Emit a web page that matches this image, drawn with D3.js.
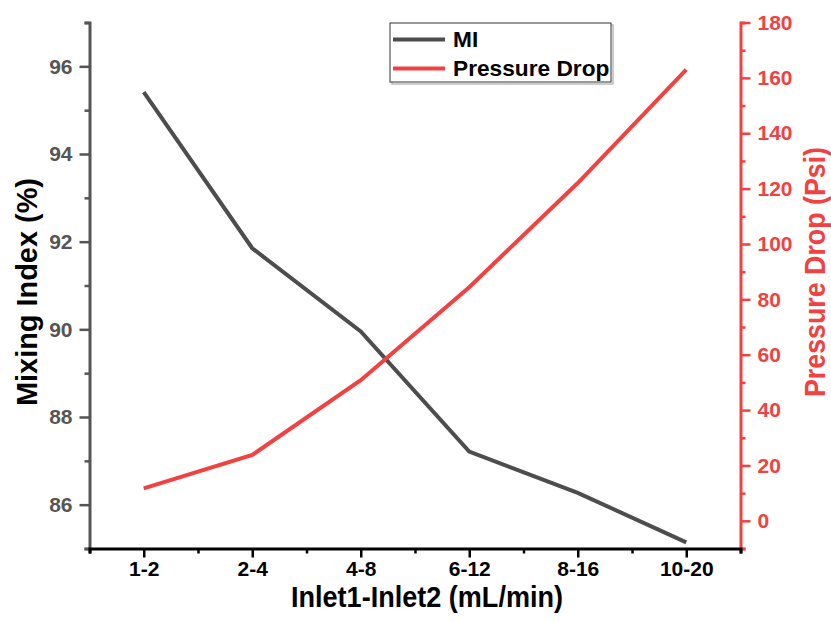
<!DOCTYPE html>
<html>
<head>
<meta charset="utf-8">
<script src="https://cdn.jsdelivr.net/npm/d3@7"></script>
<style>
  body { margin: 0; background: #fff; }
  svg text { font-family: "Liberation Sans", Arial, sans-serif; font-weight: bold; }
</style>
</head>
<body>
<svg></svg>
<script>
// data
const categories = ["1-2", "2-4", "4-8", "6-12", "8-16", "10-20"]
const mixingIndex = [95.41, 91.85, 89.95, 87.21, 86.27, 85.14]
const pressureDrop = [11.7, 23.8, 50.8, 84.4, 122, 163]
const miTicks = [86, 88, 90, 92, 94, 96]
const pdTicks = [0, 20, 40, 60, 80, 100, 120, 140, 160, 180]

const grey = "#4d4d4d"
const red = "#f24141"

const svg = d3.select("svg")
  .attr("width", 831)
  .attr("height", 621)

const plotL = 89.5, plotR = 740.5, plotT = 22.5, plotB = 548.5

// x is positional: category i sits at i+1, axis runs 0.5..6.5
const x = d3.scaleLinear().domain([0.5, 6.5]).range([plotL, plotR])
const yL = d3.scaleLinear().domain([85, 97]).range([plotB, plotT])
const yR = d3.scaleLinear().domain([-10, 180]).range([plotB, plotT])

// left axis
const gL = svg.append("g").attr("transform", `translate(${plotL},0)`)
gL.call(d3.axisLeft(yL).tickValues(d3.range(85, 97.01, 1)).tickSize(5).tickFormat(""))
gL.call(g => g.selectAll(".tick").filter(d => miTicks.includes(d)).select("line").attr("x2", -10))
gL.append("g").call(d3.axisLeft(yL).tickValues(miTicks).tickSize(10).tickPadding(7))
  .call(g => g.select(".domain").remove())
  .call(g => g.selectAll("line").remove())
  .call(g => g.selectAll("text").attr("font-size", 21).attr("fill", "#555"))
gL.selectAll(".domain").attr("stroke", "#555").attr("stroke-width", 3)
gL.selectAll(".tick line").attr("stroke", "#555").attr("stroke-width", 2.5)

// right axis
const gR = svg.append("g").attr("transform", `translate(${plotR},0)`)
gR.call(d3.axisRight(yR).tickValues(d3.range(-10, 180.01, 10)).tickSize(5).tickFormat(""))
gR.call(g => g.selectAll(".tick").filter(d => pdTicks.includes(d)).select("line").attr("x2", 10))
gR.append("g").call(d3.axisRight(yR).tickValues(pdTicks).tickSize(10).tickPadding(7))
  .call(g => g.select(".domain").remove())
  .call(g => g.selectAll("line").remove())
  .call(g => g.selectAll("text").attr("font-size", 21).attr("fill", red))
gR.selectAll(".domain").attr("stroke", red).attr("stroke-width", 3)
gR.selectAll(".tick line").attr("stroke", red).attr("stroke-width", 2.5)

// bottom axis
const gB = svg.append("g").attr("transform", `translate(0,${plotB})`)
gB.call(d3.axisBottom(x).tickValues(d3.range(0.5, 6.51, 0.5)).tickSize(5).tickFormat(""))
gB.call(g => g.selectAll(".tick").filter(d => Number.isInteger(d)).select("line").attr("y2", 9))
gB.append("g").call(d3.axisBottom(x).tickValues(d3.range(1, 7)).tickSize(9).tickPadding(4)
    .tickFormat(d => categories[d - 1]))
  .call(g => g.select(".domain").remove())
  .call(g => g.selectAll("line").remove())
  .call(g => g.selectAll("text").attr("font-size", 21).attr("fill", "#000"))
gB.selectAll(".domain").attr("stroke", "#000").attr("stroke-width", 3)
gB.selectAll(".tick line").attr("stroke", "#000").attr("stroke-width", 2.5)

// lines
const miLine = d3.line().x((d, i) => x(i + 1)).y(d => yL(d))
const pdLine = d3.line().x((d, i) => x(i + 1)).y(d => yR(d))

svg.append("path").datum(mixingIndex)
  .attr("d", miLine).attr("fill", "none").attr("stroke", grey).attr("stroke-width", 4)
svg.append("path").datum(pressureDrop)
  .attr("d", pdLine).attr("fill", "none").attr("stroke", red).attr("stroke-width", 4)

// axis titles (text in the picture is a bit narrow, so fix its length)
svg.append("text")
  .attr("transform", "translate(37,292) rotate(-90)")
  .attr("text-anchor", "middle").attr("font-size", 30).attr("fill", "#000")
  .attr("textLength", 228).attr("lengthAdjust", "spacingAndGlyphs")
  .text("Mixing Index (%)")
svg.append("text")
  .attr("transform", "translate(825,272) rotate(-90)")
  .attr("text-anchor", "middle").attr("font-size", 30).attr("fill", red)
  .attr("textLength", 250).attr("lengthAdjust", "spacingAndGlyphs")
  .text("Pressure Drop (Psi)")
svg.append("text")
  .attr("x", 427).attr("y", 607)
  .attr("text-anchor", "middle").attr("font-size", 30).attr("fill", "#000")
  .attr("textLength", 272).attr("lengthAdjust", "spacingAndGlyphs")
  .text("Inlet1-Inlet2 (mL/min)")

// legend
const legend = svg.append("g")
legend.append("rect").attr("x", 392).attr("y", 25).attr("width", 221).attr("height", 59)
  .attr("fill", "none").attr("stroke", "#bbb").attr("stroke-width", 1.5)
legend.append("rect").attr("x", 390).attr("y", 23).attr("width", 221).attr("height", 59)
  .attr("fill", "#fff").attr("stroke", "#333").attr("stroke-width", 1)
const items = [["MI", grey], ["Pressure Drop", red]]
items.forEach((it, i) => {
  const yy = 39.5 + i * 29
  legend.append("line").attr("x1", 393).attr("x2", 445).attr("y1", yy).attr("y2", yy)
    .attr("stroke", it[1]).attr("stroke-width", 4)
  legend.append("text").attr("x", 453).attr("y", yy + 7.5)
    .attr("font-size", 22.7).attr("fill", "#000").text(it[0])
})
</script>
</body>
</html>
